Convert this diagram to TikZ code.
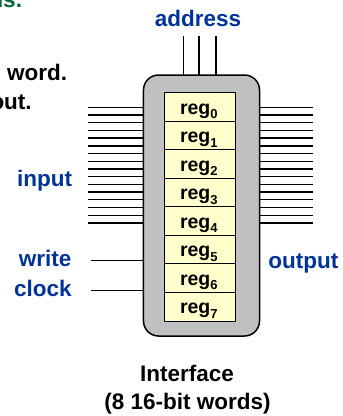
\documentclass[tikz,border=0pt]{standalone}
\usepackage{fontspec}
\setmainfont{Liberation Sans}
\definecolor{lblue}{RGB}{0,51,153}
\definecolor{lgreen}{RGB}{0,102,51}
\definecolor{boxgray}{RGB}{192,192,192}
\definecolor{regfill}{RGB}{255,255,204}
\begin{document}
\begin{tikzpicture}[x=1bp,y=-1bp,
  lbl/.style={font=\fontsize{22.5bp}{27bp}\selectfont\bfseries, inner sep=0, outer sep=0},
  bluelbl/.style={lbl, text=lblue},
  reglbl/.style={font=\fontsize{19.5bp}{21bp}\selectfont\bfseries, inner sep=0, outer sep=0, anchor=base west},
  regbox/.style={draw=black, line width=1bp, fill=regfill, minimum width=70.7bp, minimum height=28.54bp, inner sep=0, outer sep=0},
  outerbox/.style={draw=black, line width=1.5bp, fill=boxgray, rounded corners=15bp, minimum width=116bp, minimum height=261bp, inner sep=0, outer sep=0},
  wire/.style={line width=1.3bp, draw=black}]
\useasboundingbox (0,0) rectangle (343,416);
\clip (0,0) rectangle (343,416);

% clipped text from the slide
\node[lbl, text=lgreen, anchor=base west] (t1) at (-10.5,7.5) {us.};
\node[lbl, anchor=base west] (t2) at (7,80) {word.};
\node[lbl, anchor=base west] (t3) at (-9.5,109.3) {out.};

% outer box
\node[outerbox] (box) at (201.5,205.5) {};

% registers
\foreach \i in {0,...,7} {
  \node[regbox] (r\i) at (200.35,{107+28.54*\i}) {};
  \node[reglbl] (rl\i) at (180,{114+28.54*\i}) {reg\raisebox{-4.5bp}{\fontsize{13bp}{14bp}\selectfont\i}};
}

% address lines
\node[bluelbl, anchor=base] (addr) at (198,26) {address};
\foreach \x [count=\k] in {183.3,199,216} {
  \coordinate (a\k) at (\x,36);
  \draw[wire] (a\k) -- (a\k |- box.north);
}

% input / output buses
\foreach \i in {0,...,15} {
  \coordinate (in\i) at (88.3,{107.3+7.71*\i});
  \coordinate (out\i) at (312.7,{107.3+7.71*\i});
  \draw[wire] (in\i) -- (in\i -| box.west);
  \draw[wire] (out\i -| box.east) -- (out\i);
}
\node[bluelbl, anchor=base east] (input) at (72,186) {input};
\node[bluelbl, anchor=base west] (output) at (268.3,268.3) {output};

% write and clock
\coordinate (w) at (91,260.7);
\coordinate (c) at (91,290.7);
\draw[wire] (w) -- (w -| box.west);
\draw[wire] (c) -- (c -| box.west);
\node[bluelbl, anchor=base east] (write) at (71.5,266.5) {write};
\node[bluelbl, anchor=base east] (clock) at (71.7,296.5) {clock};

% caption
\node[lbl, anchor=base] (cap1) at (187,381.7) {Interface};
\node[lbl, anchor=base] (cap2) at (187.5,409.5) {(8 16-bit words)};
\end{tikzpicture}
\end{document}
